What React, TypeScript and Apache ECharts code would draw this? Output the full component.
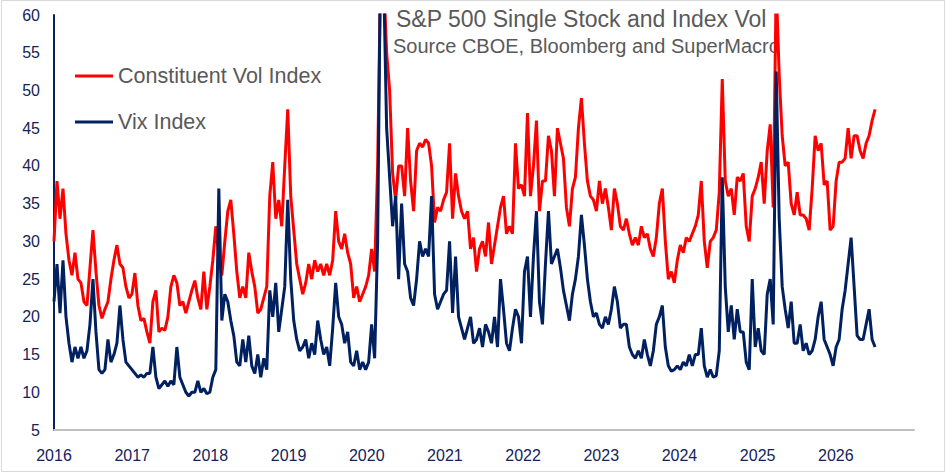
import { useEffect, useRef } from "react";
import * as echarts from "echarts";

// Sampling: one reading every 14 days starting 1 Jan 2016 (x in fractional years)
const START_YEAR = 2016;
const STEP_YEARS = 14 / 365.25;

const yearLabels = [2016, 2017, 2018, 2019, 2020, 2021, 2022, 2023, 2024, 2025, 2026];

const constituentVol = [
  30, 38, 33, 37, 31, 27.5, 25.5, 28.5, 25, 24.5,
  22, 21.5, 26.5, 31.5, 26, 21.5, 19.8, 21, 22, 25,
  27.5, 29.5, 27, 26.5, 24, 22.5, 23, 25.8, 21.5, 19.5,
  19.8, 18, 16.5, 22, 23.5, 18, 18.5, 18.2, 20, 24,
  25.5, 24.5, 21.5, 22, 20.5, 22, 23.5, 24.8, 22.5, 21,
  26, 21, 24, 27.5, 32, 28,
  25.5, 30, 34, 35.5,
  31, 26, 22.5, 24, 22.5, 28.5, 26, 24, 20.5, 21,
  22.5, 24, 36, 40.5, 33, 35.5, 32, 40, 47.5, 36,
  31.5, 27, 25, 23, 24.5, 27, 25, 27.5, 26, 27,
  25.5, 27, 25.5, 27.5, 34, 30, 29, 31, 28.5, 27,
  22.5, 24, 22, 23,
  24, 25.5, 29, 26, 40, 66,
  65, 55, 50, 39, 35.5, 40, 40, 36, 45, 38,
  34, 42, 43, 42.5, 43.5, 43, 40, 32.5, 34.5, 34,
  35.5, 36.5, 43, 33, 39, 36, 34, 33, 34, 29,
  30.5, 26, 29, 30, 28, 32.5, 27, 29.5, 32, 34.5,
  36, 31, 32, 31, 43, 37,
  37.5, 36, 47, 36,
  40, 46, 34, 38, 38, 44, 42, 36, 45, 43,
  41, 34.5, 32, 37, 38.5, 45, 49, 43, 38, 36,
  35.5, 34, 38, 35, 37, 34.5, 31.5, 37, 35, 32,
  31.5, 33, 31, 29.5, 30.5, 29.5, 32, 30.5, 31, 29,
  28, 30.5, 35, 37, 30, 25, 26, 24.5, 27.5, 29.5,
  28.5, 30.5, 30, 31, 32,
  33.5, 38, 30, 26.5, 30,
  30.5, 31.5, 36.5, 51.5, 38, 36, 37, 33.5, 38.5, 38,
  39, 32, 30, 36, 37, 38.5, 40.5, 35, 42, 45.5,
  34.5, 64, 52, 44, 40, 40.5, 35, 33.5, 36.5, 33.5,
  33.5, 33, 31.5, 37, 44, 42, 43, 37.5, 38, 31.5,
  32, 38, 40.5, 40.5, 41, 45, 41, 44, 44, 42,
  41, 43, 44, 46, 47.5,
];

const vixIndex = [
  22, 27, 20.5, 27.5, 20, 16.5, 14, 16, 14.5, 16,
  14.5, 15.5, 19, 25, 18, 13, 12.5, 13, 17, 14,
  15, 16.5, 21.5, 17, 14, 13.5, 13, 12.5, 12, 12.3,
  12, 12.5, 12.5, 16, 12, 10.5, 11, 11.5, 10.8, 11.5,
  11, 16, 12, 11, 10, 9.5, 10, 10, 11.5, 10,
  10.5, 9.8, 10, 12, 13, 37,
  19.5, 23, 22, 19.5,
  17.5, 14, 13.5, 17, 14, 17.5, 13.5, 12.5, 15, 12,
  14.5, 13, 23.5, 20, 24.5, 18, 21, 24, 35.5, 25,
  19.5, 17, 15.5, 16, 17, 14.5, 16.5, 15, 19.5, 17,
  15, 16, 13.5, 18.5, 24.5, 20, 19, 16.5, 18, 14,
  13.5, 15.5, 13, 14,
  13, 14, 19, 14.5, 30, 70,
  65, 45, 38.5, 32, 36, 25, 35, 27, 26, 22.5,
  21.5, 25, 30, 28, 29, 28, 36, 23, 21, 22,
  23, 23.5, 30, 20.5, 28, 20, 18.5, 17, 18.5, 20,
  16.5, 17, 18.5, 16, 19, 18, 16.5, 20, 16, 25,
  21, 16.5, 15.5, 18.5, 21, 20,
  16.5, 26, 28, 20,
  28, 34, 22, 19, 27, 34, 27, 28, 29, 26.5,
  23.5, 21.5, 19.5, 23, 25, 28, 33.5, 29.5, 25, 22,
  20, 20.5, 19, 18.5, 20, 19, 21, 24, 22, 18.5,
  19, 19, 16, 15, 14.5, 15.5, 14.5, 17, 15, 13.5,
  15.5, 19, 20, 21.5, 16, 13.5, 12.8, 13, 13.5, 13,
  14, 13.5, 15, 13.5, 15,
  15, 18.5, 13.5, 12, 13,
  12, 12.2, 15.5, 38.5, 24, 18, 21.5, 17, 21, 18,
  18, 14, 13, 25, 16, 18.5, 15.5, 15, 23, 25,
  19, 52.5, 33, 24, 21, 18.5, 22, 16.5, 16.5, 19,
  15.5, 16.5, 15, 15.5, 17, 20, 22, 17, 16, 15,
  13.5, 16, 17, 21, 23.5, 27, 30.5, 24, 17.5, 17,
  17, 19, 21, 17, 16,
];

const toPairs = (values: number[]) =>
  values.map((v, i) => [START_YEAR + i * STEP_YEARS, v]);

const FONT = "'Liberation Sans', Arial, sans-serif";
const AXIS_TEXT = "#14245a";
const GRAY_TEXT = "#595959";

export default function App() {
  const ref = useRef<HTMLDivElement>(null);

  useEffect(() => {
    if (!ref.current) return;
    const chart = echarts.init(ref.current, undefined, { renderer: "svg" });
    chart.setOption({
      animation: false,
      backgroundColor: "#ffffff",
      grid: { left: 54, right: 33, top: 15, bottom: 44 },
      legend: {
        orient: "vertical",
        left: 75,
        top: 65,
        padding: 0,
        itemWidth: 38,
        itemHeight: 3,
        itemGap: 24,
        icon: "rect",
        textStyle: {
          fontFamily: FONT,
          fontSize: 21.5,
          lineHeight: 22,
          color: GRAY_TEXT,
        },
        data: ["Constituent Vol Index", "Vix Index"],
      },
      xAxis: {
        type: "value",
        min: 2016,
        max: 2027,
        interval: 1,
        axisLine: { show: true, lineStyle: { color: "#bfbfbf", width: 2 } },
        axisTick: { show: false },
        splitLine: { show: false },
        axisLabel: {
          margin: 17,
          fontFamily: FONT,
          fontSize: 16,
          color: AXIS_TEXT,
          formatter: (v: number) =>
            yearLabels.includes(Math.round(v)) ? String(Math.round(v)) : "",
        },
      },
      yAxis: {
        type: "value",
        min: 5,
        max: 60,
        interval: 5,
        axisLine: { show: true, lineStyle: { color: "#0b2060", width: 2 } },
        axisTick: { show: false },
        splitLine: { show: false },
        axisLabel: {
          margin: 14,
          fontFamily: FONT,
          fontSize: 16,
          color: AXIS_TEXT,
        },
      },
      series: [
        {
          name: "Constituent Vol Index",
          type: "line",
          data: toPairs(constituentVol),
          showSymbol: false,
          clip: true,
          lineStyle: { color: "#ff0000", width: 3 },
          itemStyle: { color: "#ff0000" },
        },
        {
          name: "Vix Index",
          type: "line",
          data: toPairs(vixIndex),
          showSymbol: false,
          clip: true,
          lineStyle: { color: "#002060", width: 3 },
          itemStyle: { color: "#002060" },
        },
      ],
      graphic: [
        {
          type: "rect",
          shape: { x: 1.5, y: 0.5, width: 943, height: 471 },
          style: { fill: "none", stroke: "#d9d9d9", lineWidth: 1 },
          silent: true,
        },
        {
          type: "text",
          x: 396,
          y: 19,
          style: {
            text: "S&P 500 Single Stock and Index Vol",
            font: `23px ${FONT}`,
            fill: GRAY_TEXT,
            textAlign: "left",
            textVerticalAlign: "middle",
          },
        },
        {
          type: "text",
          x: 393,
          y: 46,
          style: {
            text: "Source CBOE, Bloomberg and SuperMacro",
            font: `20px ${FONT}`,
            fill: GRAY_TEXT,
            textAlign: "left",
            textVerticalAlign: "middle",
          },
        },
      ],
    });
    return () => chart.dispose();
  }, []);

  return (
    <div
      ref={ref}
      style={{ position: "fixed", left: 0, top: 0, width: 947, height: 474 }}
    />
  );
}
